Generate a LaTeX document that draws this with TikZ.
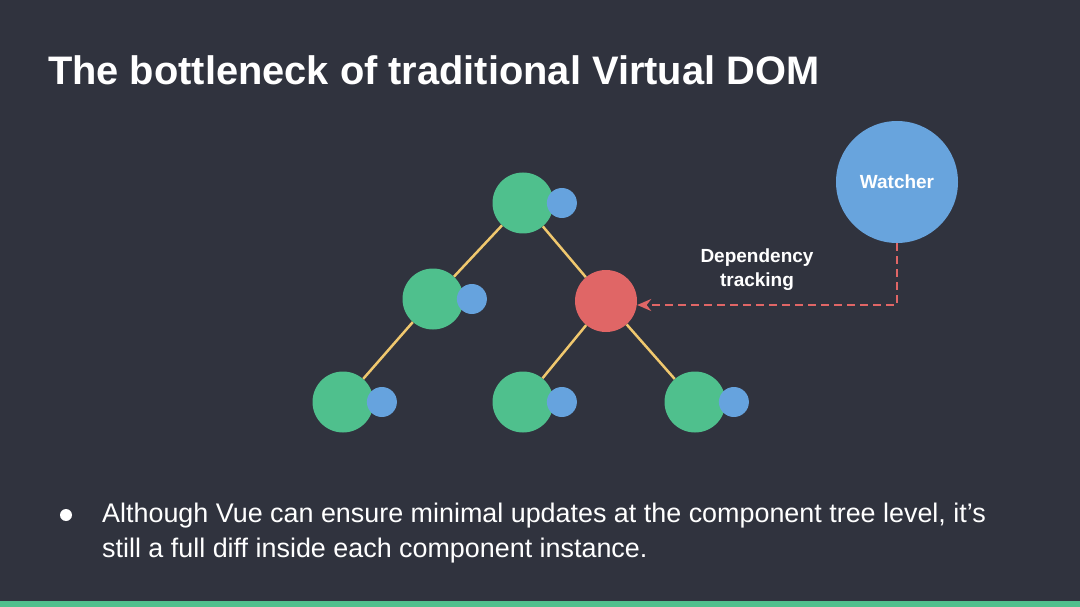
\documentclass[tikz,border=0pt]{standalone}
\usepackage{fontspec}
\setmainfont{Liberation Sans}
\usetikzlibrary{arrows.meta, positioning}
\definecolor{slidebg}{RGB}{48,51,62}
\definecolor{vuegreen}{RGB}{79,192,141}
\definecolor{dotblue}{RGB}{102,163,222}
\definecolor{watchblue}{RGB}{104,164,221}
\definecolor{depred}{RGB}{224,102,102}
\definecolor{edgeyellow}{RGB}{240,200,110}

\begin{document}
\begin{tikzpicture}[
                      x=1pt, y=-1pt,
                      >=Stealth,
                  ]
                  \tikzset{
                      comp_node/.style = {circle, fill=vuegreen, minimum size=61pt, inner sep=0pt},
                      dirty_node/.style = {circle, fill=depred, minimum size=62pt, inner sep=0pt},
                      dot_node/.style = {circle, fill=dotblue, minimum size=30pt, inner sep=0pt},
                      tree_edge/.style = {line width=2.5pt, edgeyellow},
                      track_edge/.style = {line width=2pt, depred, dash pattern=on 8pt off 5pt,
                                           -{Stealth[length=14pt, width=12pt]}},
                      slide_text/.style = {text=white, inner sep=0pt},
                  }

                  % Slide
                  \fill[slidebg] (0,0) rectangle (1080,607);
                  \fill[vuegreen] (0,601) rectangle (1080,607);
                  \useasboundingbox (0,0) rectangle (1080,607);

                  % Title
                  \node[slide_text, anchor=base west, font=\bfseries\fontsize{39.8}{45}\selectfont]
                      (title) at (48,85) {The bottleneck of traditional Virtual DOM};

                  % Component tree
                  \node[comp_node] (root) at (523,203) {};
                  \node[comp_node] (left) at (433,299) {};
                  \node[dirty_node] (dirty) at (606,301) {};
                  \node[comp_node] (leafa) at (343,402) {};
                  \node[comp_node] (leafb) at (523,402) {};
                  \node[comp_node] (leafc) at (695,402) {};

                  \node[dot_node, right=-7pt of root] (rootdot) {};
                  \node[dot_node, right=-7pt of left] (leftdot) {};
                  \node[dot_node, right=-7pt of leafa] (leafadot) {};
                  \node[dot_node, right=-7pt of leafb] (leafbdot) {};
                  \node[dot_node, right=-7pt of leafc] (leafcdot) {};

                  \draw[tree_edge] (root) -- (left);
                  \draw[tree_edge] (root) -- (dirty);
                  \draw[tree_edge] (left) -- (leafa);
                  \draw[tree_edge] (dirty) -- (leafb);
                  \draw[tree_edge] (dirty) -- (leafc);

                  % Watcher
                  \node[circle, fill=watchblue, minimum size=122pt, inner sep=0pt, text=white,
                        font=\bfseries\fontsize{19}{23}\selectfont] (watcher) at (897,182) {Watcher};
                  \draw[track_edge] (watcher.south) |- ([yshift=-4pt]dirty.east);
                  \node[slide_text, align=center, font=\bfseries\fontsize{19}{24}\selectfont]
                      (tracking) at (757,270) {Dependency\\tracking};

                  % Bullet
                  \node[circle, fill=white, minimum size=12pt, inner sep=0pt] (bullet) at (66,515) {};
                  \node[slide_text, anchor=base west, align=left, font=\fontsize{26.9}{35}\selectfont]
                      (note) at (102,557) {Although Vue can ensure minimal updates at the component tree level, it’s\\
                      still a full diff inside each component instance.};

              \end{tikzpicture}
\end{document}
